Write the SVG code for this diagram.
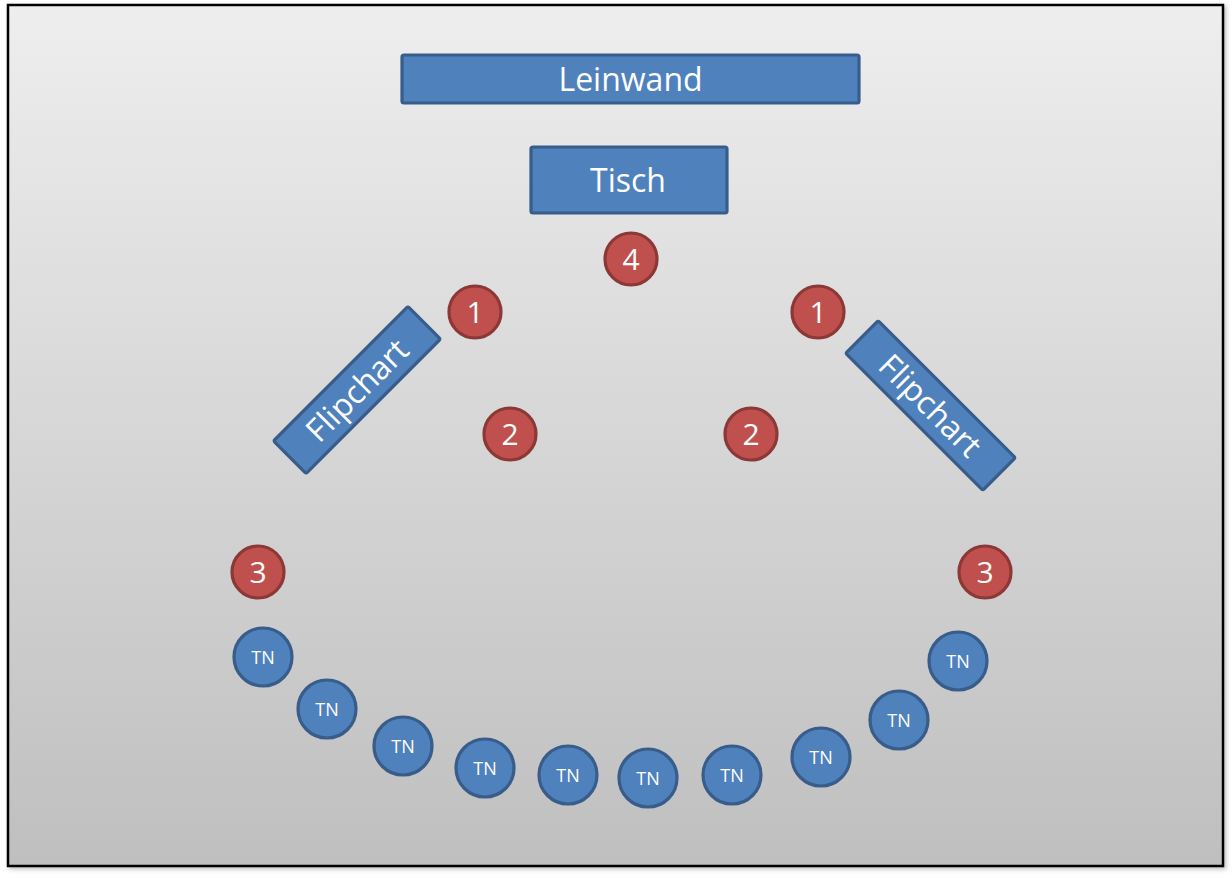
<svg xmlns="http://www.w3.org/2000/svg" width="1232" height="878" viewBox="0 0 1232 878">
<defs>
<linearGradient id="bg" x1="0" y1="0" x2="0" y2="1">
<stop offset="0" stop-color="#eeeeee"/>
<stop offset="1" stop-color="#bfbfbf"/>
</linearGradient>
<filter id="sh" x="-5%" y="-5%" width="110%" height="110%"><feDropShadow dx="2" dy="2" stdDeviation="2" flood-color="#000" flood-opacity="0.25"/></filter>
</defs>
<style>
.blue{fill:#4f81bd;stroke:#385d8a;stroke-width:3.2}
.red{fill:#c0504d;stroke:#8c3836;stroke-width:3.2}
.t{fill:#fff;font-family:"Open Sans","Noto Sans",sans-serif;text-anchor:middle;dominant-baseline:central}
.big{font-size:32px}
.num{font-size:30px}
.tn{font-size:18px}
</style>
<rect x="8" y="5" width="1215" height="861" fill="url(#bg)" stroke="#000" stroke-width="2.5" filter="url(#sh)"/>
<g id="leinwand"><rect class="blue" x="402" y="55" width="457" height="48" rx="2"/><text class="t big" x="630.5" y="78">Leinwand</text></g>
<g id="tisch"><rect class="blue" x="531" y="147" width="196" height="66" rx="2"/><text class="t big" x="628" y="179">Tisch</text></g>
<g id="flipchart-left" transform="translate(357,390) rotate(-45)"><rect class="blue" x="-95" y="-23" width="190" height="46" rx="2"/><text class="t big" x="0" y="-1">Flipchart</text></g>
<g id="flipchart-right" transform="translate(930.5,405.5) rotate(45)"><rect class="blue" x="-97" y="-23" width="194" height="46" rx="2"/><text class="t big" x="0" y="-1">Flipchart</text></g>
<g id="p4"><circle class="red" cx="631" cy="259" r="26"/><text class="t num" x="631" y="258">4</text></g>
<g id="p1l"><circle class="red" cx="475" cy="312" r="26"/><text class="t num" x="475" y="311">1</text></g>
<g id="p1r"><circle class="red" cx="818" cy="312" r="26"/><text class="t num" x="818" y="311">1</text></g>
<g id="p2l"><circle class="red" cx="510" cy="434" r="26"/><text class="t num" x="510" y="433">2</text></g>
<g id="p2r"><circle class="red" cx="751" cy="434" r="26"/><text class="t num" x="751" y="433">2</text></g>
<g id="p3l"><circle class="red" cx="258" cy="572" r="26"/><text class="t num" x="258" y="571">3</text></g>
<g id="p3r"><circle class="red" cx="985" cy="572" r="26"/><text class="t num" x="985" y="571">3</text></g>
<g id="tn1"><circle class="blue" cx="263" cy="657" r="29"/><text class="t tn" x="263" y="657">TN</text></g>
<g id="tn2"><circle class="blue" cx="327" cy="709" r="29"/><text class="t tn" x="327" y="709">TN</text></g>
<g id="tn3"><circle class="blue" cx="403" cy="746" r="29"/><text class="t tn" x="403" y="746">TN</text></g>
<g id="tn4"><circle class="blue" cx="485" cy="768" r="29"/><text class="t tn" x="485" y="768">TN</text></g>
<g id="tn5"><circle class="blue" cx="568" cy="775" r="29"/><text class="t tn" x="568" y="775">TN</text></g>
<g id="tn6"><circle class="blue" cx="648" cy="778" r="29"/><text class="t tn" x="648" y="778">TN</text></g>
<g id="tn7"><circle class="blue" cx="732" cy="775" r="29"/><text class="t tn" x="732" y="775">TN</text></g>
<g id="tn8"><circle class="blue" cx="821" cy="757" r="29"/><text class="t tn" x="821" y="757">TN</text></g>
<g id="tn9"><circle class="blue" cx="899" cy="720" r="29"/><text class="t tn" x="899" y="720">TN</text></g>
<g id="tn10"><circle class="blue" cx="958" cy="661" r="29"/><text class="t tn" x="958" y="661">TN</text></g>
<g id="connectors"/>
</svg>
